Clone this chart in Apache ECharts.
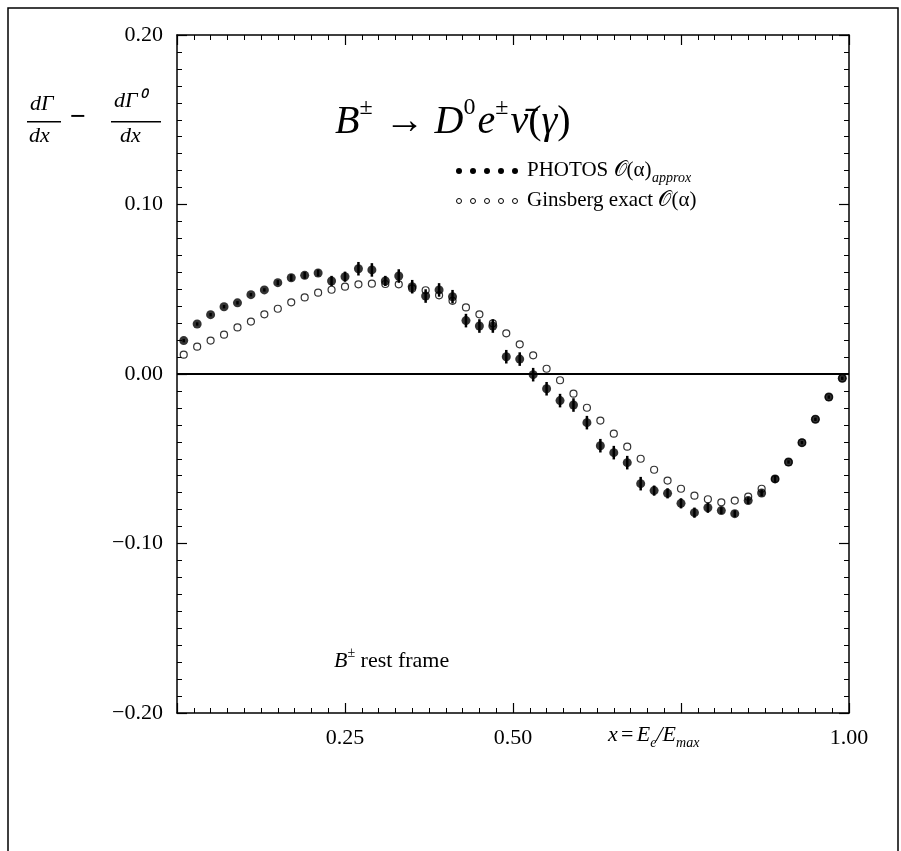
<!DOCTYPE html>
<html><head><meta charset="utf-8">
<script src="https://cdn.jsdelivr.net/npm/echarts@6/dist/echarts.min.js"></script>
<style>body{margin:0;background:#fff}#c{width:901px;height:851px}</style>
</head><body><div id="c"></div>
<script>
var xs = [];
for (var i = 0; i < 50; i++) xs.push(+(0.01 + 0.02 * i).toFixed(2));
var photos = [0.0197,0.0295,0.035,0.0397,0.042,0.0468,0.0496,0.0539,0.0568,0.0582,
  0.0596,0.0549,0.0574,0.0621,0.0614,0.0549,0.0578,0.0515,0.046,0.0496,
  0.0456,0.0315,0.0283,0.0283,0.0102,0.0088,-0.0004,-0.0087,-0.0157,-0.0183,
  -0.0287,-0.0423,-0.0464,-0.0523,-0.0647,-0.0688,-0.0704,-0.0763,-0.0818,-0.0789,
  -0.0806,-0.0824,-0.0747,-0.0702,-0.0619,-0.0519,-0.0405,-0.0267,-0.0136,-0.0025];
var photosErr = [0.001,0.001,0.001,0.001,0.001,0.001,0.001,0.0015,0.002,0.002,
  0.002,0.003,0.003,0.004,0.004,0.003,0.004,0.004,0.004,0.004,
  0.004,0.004,0.004,0.004,0.004,0.004,0.004,0.004,0.004,0.004,
  0.004,0.004,0.004,0.004,0.004,0.003,0.003,0.003,0.003,0.003,
  0.002,0.002,0.002,0.002,0.002,0.001,0.001,0.001,0.001,0.001];
var ginsberg = [0.0114,0.0161,0.0197,0.0232,0.0275,0.0309,0.0352,0.0385,0.0423,0.0452,
  0.048,0.0497,0.0515,0.0529,0.0533,0.0531,0.0529,0.0505,0.0494,0.0464,
  0.0432,0.0393,0.0352,0.0299,0.024,0.0175,0.011,0.0031,-0.0037,-0.0116,
  -0.0199,-0.0275,-0.0352,-0.0429,-0.05,-0.0565,-0.0629,-0.0677,-0.0718,-0.0739,
  -0.0757,-0.0747,-0.0724,-0.0677,-0.062,-0.052,-0.0405,-0.0267,-0.0136,-0.0025];
var xTicks = ['0.25', '0.50', '1.00'];

var serif = 'Liberation Serif';
var chart = echarts.init(document.getElementById('c'));
function fmtY(v){ return v === 0 ? '0.00' : (v < 0 ? '\u2212' : '') + Math.abs(v).toFixed(2); }
function axis(extra){
  return Object.assign({
    type: 'value',
    axisLine: {show: true, onZero: false, lineStyle: {color: '#000', width: 1.5}},
    axisTick: {show: true, inside: true, length: 10, lineStyle: {color: '#000', width: 1.2}},
    minorTick: {show: true, splitNumber: 10, length: 5, lineStyle: {color: '#000'}},
    splitLine: {show: false}
  }, extra);
}
var lab = {color: '#000', fontFamily: serif, fontSize: 22, margin: 14};
chart.setOption({
  animation: false,
  grid: {left: 177, right: 52, top: 35, bottom: 138},
  xAxis: [
    axis({min: 0, max: 1, interval: 0.25, position: 'bottom',
      axisLabel: Object.assign({}, lab, {formatter: function(v){
        var s = v.toFixed(2); return xTicks.indexOf(s) >= 0 ? s : ''; }})}),
    axis({min: 0, max: 1, interval: 0.25, position: 'top', axisLabel: {show: false}})
  ],
  yAxis: [
    axis({min: -0.2, max: 0.2, interval: 0.1, position: 'left',
      axisLabel: Object.assign({}, lab, {formatter: fmtY})}),
    axis({min: -0.2, max: 0.2, interval: 0.1, position: 'right', axisLabel: {show: false}})
  ],
  series: [
    {type: 'scatter', symbol: 'circle', symbolSize: 7,
      itemStyle: {color: '#fff', borderColor: '#000', borderWidth: 1.2},
      data: xs.map(function(x, i){ return [x, ginsberg[i]]; }),
      markLine: {silent: true, symbol: 'none', label: {show: false},
        lineStyle: {color: '#000', width: 2, type: 'solid'}, data: [{yAxis: 0}]}},
    {type: 'custom',
      renderItem: function(params, api){
        var x = api.value(0), y = api.value(1), e = api.value(2);
        var p1 = api.coord([x, y + e]), p2 = api.coord([x, y - e]);
        return {type: 'line', shape: {x1: p1[0], y1: p1[1], x2: p2[0], y2: p2[1]},
          style: {stroke: '#000', lineWidth: 2.5}};
      },
      data: xs.map(function(x, i){ return [x, photos[i], photosErr[i]]; }), z: 3},
    {type: 'scatter', symbol: 'circle', symbolSize: 9, z: 4,
      itemStyle: {color: '#000'},
      data: xs.map(function(x, i){ return [x, photos[i]]; })}
  ],
  graphic: [
    {type: 'rect', shape: {x: 8, y: 8, width: 890, height: 860}, style: {fill: null, stroke: '#000', lineWidth: 1.5}},
    {type: 'text', left: 335, top: 96, style: {
      text: '{i|B}{s|\u00b1}{n| \u2192 }{i|D}{s|0}{i|e}{s|\u00b1}{i|\u03bd\u0304}{n|(}{i|\u03b3}{n|)}',
      rich: {
        i: {font: 'italic 40px "Liberation Serif"', fill: '#000', verticalAlign: 'bottom'},
        n: {font: '40px "Liberation Serif"', fill: '#000', verticalAlign: 'bottom'},
        s: {font: '24px "Liberation Serif"', fill: '#000', verticalAlign: 'top', padding: [0, 2, 22, 0]}
      }}},
    {type: 'text', left: 30, top: 93, style: {text: 'd\u0393', font: 'italic 22px "Liberation Serif"', fill: '#000'}},
    {type: 'rect', shape: {x: 27, y: 121, width: 34, height: 1.5}, style: {fill: '#000'}},
    {type: 'text', left: 29, top: 125, style: {text: 'dx', font: 'italic 22px "Liberation Serif"', fill: '#000'}},
    {type: 'text', left: 70, top: 104, style: {text: '\u2212', font: 'bold 28px "Liberation Serif"', fill: '#000'}},
    {type: 'text', left: 114, top: 90, style: {text: 'd\u0393\u2070', font: 'italic 22px "Liberation Serif"', fill: '#000'}},
    {type: 'rect', shape: {x: 111, y: 121, width: 50, height: 1.5}, style: {fill: '#000'}},
    {type: 'text', left: 120, top: 125, style: {text: 'dx', font: 'italic 22px "Liberation Serif"', fill: '#000'}},
    {type: 'group', left: 456, top: 160, children: [
      {type: 'circle', shape: {cx: 4, cy: 8, r: 3}, style: {fill: '#000'}},
      {type: 'circle', shape: {cx: 18, cy: 8, r: 3}, style: {fill: '#000'}},
      {type: 'circle', shape: {cx: 32, cy: 8, r: 3}, style: {fill: '#000'}},
      {type: 'circle', shape: {cx: 46, cy: 8, r: 3}, style: {fill: '#000'}},
      {type: 'circle', shape: {cx: 60, cy: 8, r: 3}, style: {fill: '#000'}},
      {type: 'text', x: 72, y: -3, style: {text: 'PHOTOS \ud835\udcaa(\u03b1)', font: '21px "Liberation Serif"', fill: '#000'}},
      {type: 'text', x: 197, y: 8, style: {text: 'approx', font: 'italic 14px "Liberation Serif"', fill: '#000'}},
      {type: 'circle', shape: {cx: 4, cy: 38, r: 2.5}, style: {fill: '#fff', stroke: '#000', lineWidth: 1}},
      {type: 'circle', shape: {cx: 18, cy: 38, r: 2.5}, style: {fill: '#fff', stroke: '#000', lineWidth: 1}},
      {type: 'circle', shape: {cx: 32, cy: 38, r: 2.5}, style: {fill: '#fff', stroke: '#000', lineWidth: 1}},
      {type: 'circle', shape: {cx: 46, cy: 38, r: 2.5}, style: {fill: '#fff', stroke: '#000', lineWidth: 1}},
      {type: 'circle', shape: {cx: 60, cy: 38, r: 2.5}, style: {fill: '#fff', stroke: '#000', lineWidth: 1}},
      {type: 'text', x: 72, y: 27, style: {text: 'Ginsberg exact \ud835\udcaa(\u03b1)', font: '21px "Liberation Serif"', fill: '#000'}}
    ]},
    {type: 'text', left: 334, top: 646, style: {
      text: '{i|B}{s|\u00b1}{n| rest frame}',
      rich: {
        i: {font: 'italic 22px "Liberation Serif"', fill: '#000', verticalAlign: 'bottom'},
        n: {font: '22px "Liberation Serif"', fill: '#000', verticalAlign: 'bottom'},
        s: {font: '14px "Liberation Serif"', fill: '#000', verticalAlign: 'top', padding: [0, 0, 12, 0]}
      }}},
    {type: 'text', left: 608, top: 724, style: {
      text: '{i|x} {n|=} {i|E}{b|e}{i|/E}{b|max}',
      rich: {
        i: {font: 'italic 22px "Liberation Serif"', fill: '#000', verticalAlign: 'top'},
        n: {font: '22px "Liberation Serif"', fill: '#000', verticalAlign: 'top'},
        b: {font: 'italic 14px "Liberation Serif"', fill: '#000', verticalAlign: 'top', padding: [12, 0, 0, 0]}
      }}}
  ]
});
</script></body></html>
